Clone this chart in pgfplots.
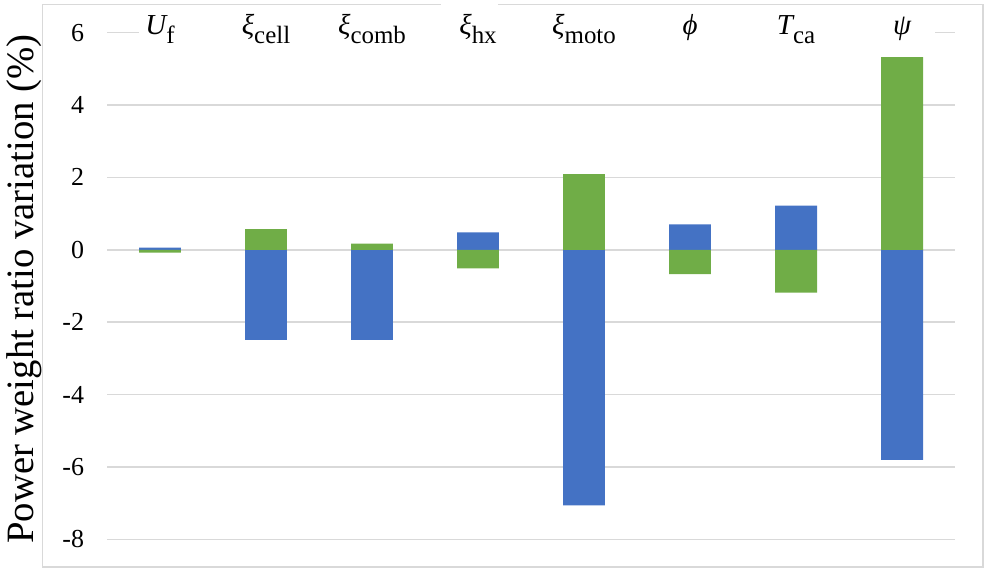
\documentclass[border=0pt]{standalone}
\usepackage{pgfplots}
\pgfplotsset{compat=1.18}
\usepackage{fontspec}
\setmainfont{Liberation Serif}
\definecolor{cblue}{HTML}{4472C4}
\definecolor{cgreen}{HTML}{70AD47}
\definecolor{cgrid}{HTML}{D9D9D9}
\newcommand{\sub}[1]{\raisebox{-0.3em}{\fontsize{12.5}{14}\selectfont #1}}
\begin{document}
\begin{tikzpicture}
\begin{axis}[
  scale only axis, width=425pt, height=254pt,
  xmin=-0.5, xmax=7.5, ymin=-8, ymax=6,
  clip=false,
  axis line style={draw=none},
  major tick length=0pt,
  ytick={-8,-6,-4,-2,0,2,4,6},
  yticklabels={-8,-6,-4,-2,0,2,4,6},
  yticklabel style={font=\fontsize{13}{15}\selectfont},
  yticklabel shift=8pt,
  xtick={0,1,2,3,4,5,6,7},
  xticklabels={{\itshape U}\sub{f}, {\itshape ξ}\sub{cell}, {\itshape ξ}\sub{comb}, {\itshape ξ}\sub{hx}, {\itshape ξ}\sub{moto}, {\itshape ϕ}, {\itshape T}\sub{ca}, {\itshape ψ}},
  xticklabel pos=upper,
  xticklabel style={anchor=base, yshift=-1pt, font=\fontsize{14.5}{16}\selectfont},
  ylabel={Power weight ratio variation (\%)},
  ylabel style={at={(rel axis cs:-0.0976,0.494)}, anchor=center, font=\fontsize{19.4}{22}\selectfont},
  ybar, bar width=21pt,
]
\path (axis cs:-1.488,6.882) rectangle (axis cs:7.792,-8.882);
\draw[cgrid, line width=0.6pt] (axis cs:-1.112,6.785) rectangle (axis cs:7.764,-8.763);
\fill[white] (axis cs:2.653,6.9) rectangle (axis cs:3.189,6.66);
\draw[cgrid, line width=0.75pt] (axis cs:-0.5,-8) -- (axis cs:7.5,-8);
\draw[cgrid, line width=0.75pt] (axis cs:-0.5,-6) -- (axis cs:7.5,-6);
\draw[cgrid, line width=0.75pt] (axis cs:-0.5,-4) -- (axis cs:7.5,-4);
\draw[cgrid, line width=0.75pt] (axis cs:-0.5,-2) -- (axis cs:7.5,-2);
\draw[cgrid, line width=0.75pt] (axis cs:-0.5,0) -- (axis cs:7.5,0);
\draw[cgrid, line width=0.75pt] (axis cs:-0.5,2) -- (axis cs:7.5,2);
\draw[cgrid, line width=0.75pt] (axis cs:-0.5,4) -- (axis cs:7.5,4);
\draw[cgrid, line width=0.75pt] (axis cs:-0.5,6) -- (axis cs:-0.199,6);
\draw[cgrid, line width=0.75pt] (axis cs:7.312,6) -- (axis cs:7.5,6);
\addplot[bar shift=0pt, fill=cblue, draw=none] coordinates {
 (0,0.06) (1,-2.49) (2,-2.49) (3,0.48) (4,-7.06) (5,0.70) (6,1.22) (7,-5.80)};
\addplot[bar shift=0pt, fill=cgreen, draw=none] coordinates {
 (0,-0.08) (1,0.57) (2,0.17) (3,-0.51) (4,2.09) (5,-0.67) (6,-1.18) (7,5.32)};
\end{axis}
\end{tikzpicture}
\end{document}
